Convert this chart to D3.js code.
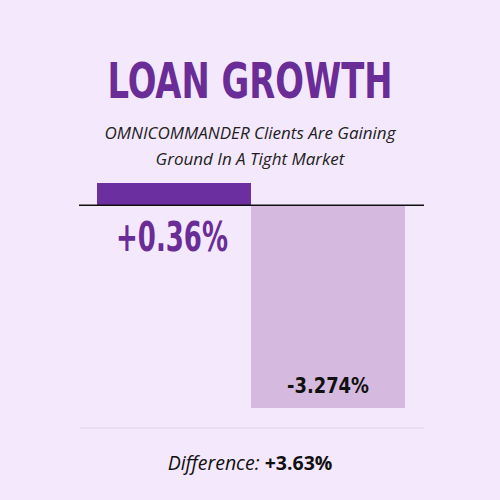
<!DOCTYPE html>
<html><head><meta charset="utf-8">
<script src="https://cdn.jsdelivr.net/npm/d3@7"></script>
<style>body{margin:0;background:#f4e8fc}</style>
</head><body><svg id="c" width="500" height="500"></svg>
<script>
// data
var groups = ["OMNICOMMANDER", "Market"];
var values = [0.36, -3.274];
var labels = ["+0.36%", "-3.274%"];
var difference = "+3.63%";

var svg = d3.select("#c");
svg.append("rect").attr("width", 500).attr("height", 500).attr("fill", "#f4e8fc");

var x = d3.scaleBand().domain(groups).range([97, 405]).padding(0);
var y = d3.scaleLinear().domain([-3.274, 0.36]).range([408, 183]);

svg.append("text").attr("x", 250).attr("y", 98).attr("text-anchor", "middle")
    .attr("font-family", "DejaVu Sans Condensed").attr("font-weight", "bold")
    .attr("font-size", 50).attr("fill", "#6a2c96")
    .attr("textLength", 285).attr("lengthAdjust", "spacingAndGlyphs")
    .text("LOAN GROWTH");

var sub = ["OMNICOMMANDER Clients Are Gaining", "Ground In A Tight Market"];
svg.selectAll(".sub").data(sub).enter().append("text")
    .attr("x", 250).attr("y", (d, i) => 139 + i * 26).attr("text-anchor", "middle")
    .attr("font-family", "Open Sans").attr("font-style", "italic")
    .attr("font-size", 17).attr("fill", "#222").text(d => d);

var colors = ["#6b2fa0", "#d5b9de"];
svg.selectAll(".bar").data(values).enter().append("rect")
    .attr("x", (d, i) => x(groups[i])).attr("width", x.bandwidth())
    .attr("y", d => y(Math.max(0, d))).attr("height", d => Math.abs(y(d) - y(0)))
    .attr("fill", (d, i) => colors[i]);

svg.append("line").attr("x1", 79).attr("x2", 424).attr("y1", y(0)).attr("y2", y(0))
    .attr("stroke", "#111").attr("stroke-width", 1.5);

svg.append("text").attr("x", x(groups[0]) + x.bandwidth() / 2 - 2).attr("y", 251)
    .attr("text-anchor", "middle").attr("font-family", "DejaVu Sans Condensed")
    .attr("font-weight", "bold").attr("font-size", 40).attr("fill", "#6a2c96")
    .attr("textLength", 112).attr("lengthAdjust", "spacingAndGlyphs").text(labels[0]);

svg.append("text").attr("x", x(groups[1]) + x.bandwidth() / 2).attr("y", y(values[1]) - 15)
    .attr("text-anchor", "middle").attr("font-family", "DejaVu Sans Condensed")
    .attr("font-weight", "bold").attr("font-size", 22).attr("fill", "#111")
    .attr("textLength", 82).attr("lengthAdjust", "spacingAndGlyphs").text(labels[1]);

svg.append("line").attr("x1", 80).attr("x2", 424).attr("y1", 428).attr("y2", 428)
    .attr("stroke", "#e2d3ea").attr("stroke-width", 1);

var t = svg.append("text").attr("x", 250).attr("y", 470).attr("text-anchor", "middle")
    .attr("font-family", "Open Sans").attr("font-size", 19.5).attr("fill", "#111");
t.append("tspan").attr("font-style", "italic").text("Difference: ");
t.append("tspan").attr("font-weight", "bold").text(difference);
</script></body></html>
